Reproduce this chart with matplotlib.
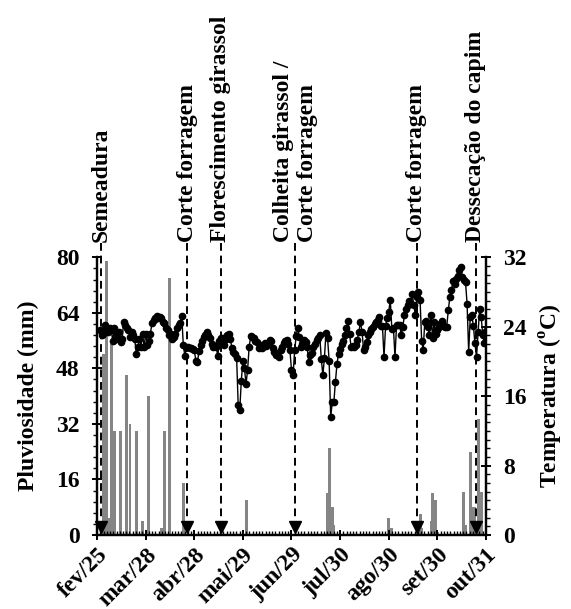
import numpy as np
import matplotlib
matplotlib.use("Agg")
import matplotlib.pyplot as plt
from matplotlib.ticker import MultipleLocator

plt.rcParams["font.family"] = ["Liberation Serif", "DejaVu Serif"]
plt.rcParams["font.weight"] = "bold"
plt.rcParams["mathtext.fontset"] = "custom"
plt.rcParams["mathtext.rm"] = "Liberation Serif:bold"
plt.rcParams["mathtext.bf"] = "Liberation Serif:bold"

# ── data (day 0 = 25 Feb) ──────────────────────────────────────────────
tick_days   = [0, 31, 62, 93, 124, 155, 186, 217, 248]
tick_labels = ["fev/25", "mar/28", "abr/28", "mai/29", "jun/29",
               "jul/30", "ago/30", "set/30", "out/31"]

rain_days = [4, 6, 7, 9, 11, 15, 19, 21, 25, 29, 33, 41, 43, 46, 55, 95,
             147, 148, 150, 151, 186, 188, 204, 206, 207, 213, 214, 216, 217,
             234, 235, 238, 240, 241, 243, 245]
rain_mm   = [52, 79, 5, 55, 30, 30, 46, 32, 30, 4, 40, 2, 30, 74, 15, 10,
             12, 25, 8, 3, 5, 2, 1, 6, 2, 4, 12, 10, 1,
             12.5, 3, 24, 8, 8, 33.5, 12.5]

temp_start = 2
temp_c = [
    23.6, 23.0, 23.2, 24.2, 23.6, 23.4, 23.8, 23.6, 22.4, 23.8,   # 2-11
    22.6, 23.2, 23.4, 22.2, 22.6, 24.6, 24.2, 23.8, 23.6, 22.8,   # 12-21
    23.4, 23.0, 22.6, 20.9, 21.7, 22.6, 21.7, 23.2, 21.7, 23.2,   # 22-31
    21.9, 22.4, 23.2, 24.4, 24.8, 25.0, 25.2, 25.0, 25.1, 25.0,   # 32-41
    24.6, 24.4, 23.8, 23.6, 23.0, 23.2, 22.6, 22.8, 23.2, 23.8,   # 42-51
    24.2, 24.4, 25.2, 21.9, 20.6, 21.7, 21.7, 21.5, 21.5, 21.4,   # 52-61
    21.3, 20.1, 19.9, 21.2, 21.9, 22.4, 22.8, 23.0, 23.4, 23.0,   # 62-71
    22.7, 22.0, 21.7, 21.8, 21.7, 20.6, 22.4, 22.7, 22.7, 21.9,   # 72-81
    22.6, 23.0, 23.2, 22.6, 21.5, 21.1, 20.8, 20.4, 15.0, 14.4,   # 82-91
    17.8, 20.1, 19.2, 17.4, 19.0, 21.7, 22.9, 22.8, 22.7, 22.4,   # 92-101
    22.2, 21.5, 21.9, 21.6, 21.9, 22.1, 21.8, 22.1, 22.5, 22.3,   # 102-111
    21.5, 21.1, 20.7, 21.0, 20.5, 21.3, 21.7, 22.1, 22.4, 22.5,   # 112-121
    22.0, 21.3, 19.0, 18.4, 21.3, 22.9, 23.9, 22.8, 21.7, 22.0,   # 122-131
    22.5, 22.2, 21.7, 19.9, 20.7, 21.0, 21.7, 22.0, 22.5, 22.7,   # 132-141
    23.0, 20.3, 18.4, 20.4, 23.3, 22.7, 20.1, 13.6, 15.3, 15.3,   # 142-151
    17.6, 19.7, 20.9, 21.4, 22.0, 22.4, 23.0, 23.8, 24.7, 23.2,   # 152-161
    21.7, 21.8, 21.7, 21.9, 22.5, 23.4, 24.6, 23.4, 21.3, 21.7,   # 162-171
    22.2, 23.0, 23.4, 23.7, 24.0, 24.3, 24.6, 24.8, 25.1, 24.1,   # 172-181
    24.1, 20.5, 24.1, 25.0, 25.7, 27.1, 23.7, 23.9, 20.5, 24.2,   # 182-191
    24.2, 24.2, 23.0, 24.0, 25.3, 26.0, 26.5, 27.0, 26.6, 27.8,   # 192-201
    26.5, 25.3, 27.4, 28.0, 27.1, 22.4, 21.3, 24.6, 24.7, 24.0,   # 202-211
    23.0, 25.4, 22.7, 24.6, 23.2, 23.6, 24.0, 24.3, 24.7, 24.1,   # 212-221
    24.0, 24.0, 25.9, 27.4, 28.2, 29.3, 28.9, 29.5, 29.9, 30.5,   # 222-231
    30.9, 29.7, 29.4, 29.1, 26.6, 21.1, 25.1, 25.3, 24.1, 22.1,   # 232-241
    20.5, 23.4, 26.1, 25.1, 23.0, 22.1, 23.5,                     # 242-248
]
temp_days = np.arange(temp_start, temp_start + len(temp_c))

event_days   = [2.5, 57.5, 79, 126.5, 204, 241.5]
event_labels = ["Semeadura", "Corte forragem", "Florescimento girassol",
                "Colheita girassol /\nCorte forragem", "Corte forragem",
                "Dessecação do capim"]

FS = 17

# ── figure ────────────────────────────────────────────────────────────
fig = plt.figure(figsize=(5.71, 6.09), dpi=100)
ax = fig.add_axes([0.170, 0.1215, 0.681, 0.456])
ax2 = ax.twinx()

ax.bar(rain_days, rain_mm, width=1.9, color="#858585", zorder=1)
ax2.plot(temp_days, temp_c, color="black", lw=1.0, marker="o",
         markersize=4.5, zorder=3)

ax.set_xlim(0, 248)
ax.set_ylim(0, 80)
ax2.set_ylim(0, 32)

ax.set_xticks(tick_days)
ax.set_xticklabels(tick_labels, rotation=45, ha="right",
                   rotation_mode="anchor", fontsize=FS, fontweight="bold")
ax.xaxis.set_minor_locator(MultipleLocator(31 / 15))
ax.yaxis.set_major_locator(MultipleLocator(16))
ax.yaxis.set_minor_locator(MultipleLocator(3.2))
ax2.yaxis.set_major_locator(MultipleLocator(8))
ax2.yaxis.set_minor_locator(MultipleLocator(1))

for a in (ax, ax2):
    a.spines["top"].set_visible(False)
    for s in ("left", "right", "bottom"):
        a.spines[s].set_linewidth(1.6)
    a.tick_params(which="major", direction="inout", length=7, width=1.4,
                  labelsize=FS, pad=9)
    a.tick_params(which="minor", direction="out", length=3, width=1.0)
    for lab in a.get_yticklabels():
        lab.set_fontweight("bold")
ax.tick_params(axis="x", which="major", pad=3)
ax.tick_params(axis="x", which="minor", direction="in", length=3)

ax.set_ylabel("Pluviosidade (mm)", fontsize=FS, fontweight="bold", labelpad=12)
ax2.set_ylabel(r"Temperatura ($^{\mathbf{o}}$C)", fontsize=FS,
               fontweight="bold", labelpad=8)

# event markers: dashed arrows with rotated labels above the axes
for d, lab in zip(event_days, event_labels):
    ax.plot([d, d], [84, 3.5], ls=(0, (4, 2.5)), color="black", lw=1.4,
            clip_on=False, zorder=4)
    ax.plot([d], [2.2], marker="v", color="black", markersize=8,
            clip_on=False, zorder=4)
    ax.text(d, 84.5, lab, rotation=90, ha="center", va="bottom",
            multialignment="left", fontsize=FS, fontweight="bold",
            linespacing=1.15, clip_on=False)

fig.savefig("out.png", dpi=100)
